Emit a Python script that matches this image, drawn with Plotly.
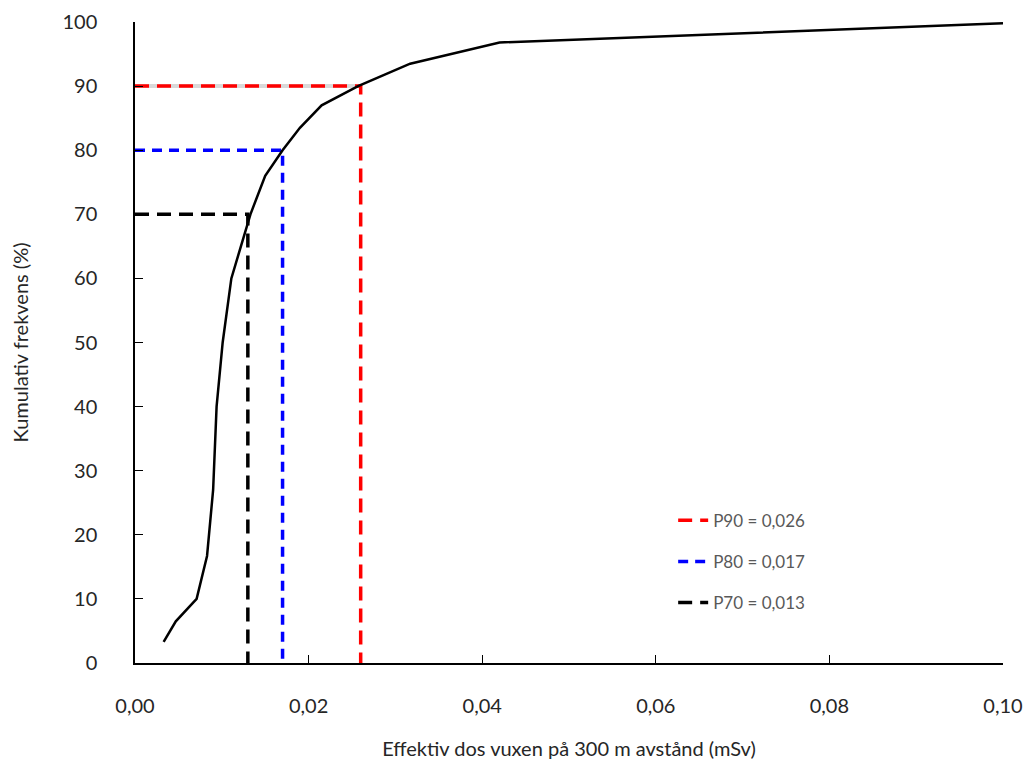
import plotly.graph_objects as go

dose = [0.0033, 0.0047, 0.0071, 0.0083, 0.0090, 0.0094, 0.0101, 0.0111, 0.0133,
        0.0150, 0.0170, 0.0190, 0.0215, 0.0257, 0.0317, 0.0420, 0.1000]
cumfreq = [3.3, 6.5, 10.0, 16.7, 27.0, 40.0, 50.0, 60.0, 70.0,
           76.0, 80.0, 83.5, 87.0, 90.0, 93.5, 96.8, 99.8]

pct_names = ["P90 = 0,026", "P80 = 0,017", "P70 = 0,013"]
pct_x = [0.026, 0.017, 0.013]
pct_y = [90, 80, 70]
pct_colors = ["#ff0000", "#0000ff", "#000000"]
pct_dash = ["14px,8px", "10px,7px", "14px,8px"]

x_ticks = [0.0, 0.02, 0.04, 0.06, 0.08, 0.10]
y_ticks = list(range(0, 101, 10))

fig = go.Figure()

# faint grey band under the P90 horizontal
fig.add_trace(go.Scatter(x=[0, pct_x[0]], y=[pct_y[0], pct_y[0]], mode="lines",
                         line=dict(color="#d9d9d9", width=4), showlegend=False,
                         hoverinfo="skip"))

for i, (n, px, py, c, d) in enumerate(zip(pct_names, pct_x, pct_y, pct_colors, pct_dash)):
    fig.add_trace(go.Scatter(
        x=[0, px, px], y=[py, py, 0], mode="lines", name=n,
        line=dict(color=c, width=3.5, dash=d),
        legendgroup=f"g{i}", legendrank=i + 1,
    ))

fig.add_trace(go.Scatter(x=dose, y=cumfreq, mode="lines",
                         line=dict(color="#000000", width=2.5),
                         showlegend=False))

fig.update_layout(
    width=1035, height=766,
    margin=dict(l=127, r=40, t=14, b=111, autoexpand=False),
    paper_bgcolor="white", plot_bgcolor="white",
    separators=", ",
    font=dict(family="Lato, Noto Sans, sans-serif", size=20, color="#262626"),
    showlegend=True,
    legend=dict(x=0.62, y=0.25, xanchor="left", yanchor="top",
                bgcolor="rgba(0,0,0,0)", tracegroupgap=16,
                font=dict(size=17, color="#595959")),
    xaxis=dict(range=[0, 0.1], tickvals=x_ticks, tickformat=".2f",
               showgrid=False, zeroline=False, showline=True, linecolor="#000000",
               linewidth=1.5, ticks="inside", ticklen=8, tickcolor="#000000",
               title=dict(text="Effektiv dos vuxen på 300 m avstånd (mSv)", standoff=26,
                          font=dict(size=20, color="#262626")),
               ticklabelstandoff=24),
    yaxis=dict(range=[0, 100], tickvals=y_ticks, showgrid=False, zeroline=False,
               showline=True, linecolor="#000000", linewidth=1.5,
               ticks="inside", ticklen=8, tickcolor="#000000",
               ticklabelstandoff=32,
               title=dict(text="Kumulativ frekvens (%)", standoff=30,
                          font=dict(size=20, color="#262626"))),
)

fig.write_html("out.html")
